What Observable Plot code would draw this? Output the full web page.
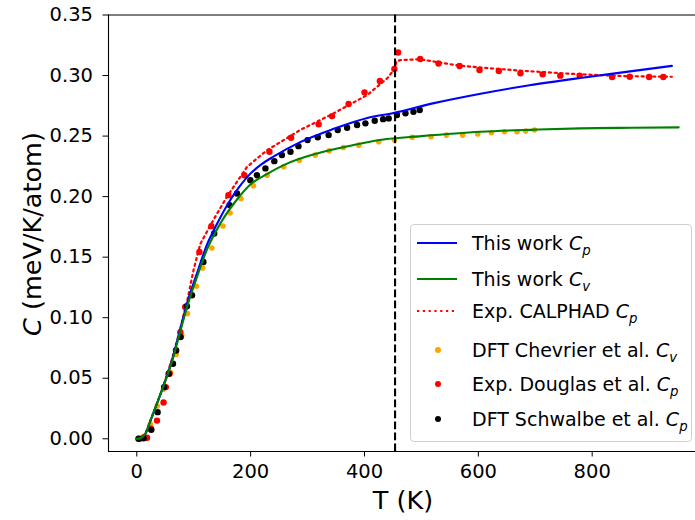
<!DOCTYPE html>
<html><head><meta charset="utf-8">
<script src="https://cdn.jsdelivr.net/npm/d3@7"></script>
<script src="https://cdn.jsdelivr.net/npm/@observablehq/plot@0.6"></script>
<style>
body{margin:0;background:#fff;font-family:"DejaVu Sans",sans-serif;}
#wrap{position:relative;width:695px;height:520px;overflow:hidden;}
.legend{position:absolute;left:410px;top:224px;width:282px;height:218px;border:1px solid #d0d0d0;border-radius:4px;background:rgba(255,255,255,0.8);box-sizing:border-box;font-size:19px;color:#000;}
.row{position:absolute;left:0;height:0;}
.row span.t{position:absolute;left:61px;top:-12px;white-space:nowrap;line-height:24px;}
.row svg{position:absolute;left:0;top:-10px;}
sub{font-size:70%;vertical-align:-0.35em;line-height:0;}
</style></head>
<body><div id="wrap"></div>
<script>
// Axis ticks
const xTicks = [0, 200, 400, 600, 800];
const yTicks = [0, 0.05, 0.10, 0.15, 0.20, 0.25, 0.30, 0.35];
const meltT = 453.7;

// This work Cp (blue line)
const cpT = [0, 5, 15, 24, 44, 62, 76, 89, 106, 123, 135, 147, 164, 180, 199.5, 220, 240, 287, 346, 405, 451, 520, 604, 690, 779, 860, 940];
const cpC = [0, 0.0003, 0.004, 0.015, 0.040, 0.065, 0.090, 0.113, 0.137, 0.160, 0.172, 0.183, 0.197, 0.208, 0.219, 0.227, 0.233, 0.245, 0.256, 0.265, 0.269, 0.277, 0.285, 0.292, 0.298, 0.303, 0.308];

// This work Cv (green line)
const cvT = [0, 5, 15, 24, 44, 62, 76, 89, 106, 123, 147, 175, 199.5, 230, 258, 317, 375, 430, 500, 604, 700, 779, 870, 952];
const cvC = [0, 0.0003, 0.004, 0.015, 0.040, 0.064, 0.088, 0.110, 0.134, 0.156, 0.178, 0.197, 0.210, 0.219, 0.226, 0.2357, 0.242, 0.247, 0.250, 0.2536, 0.2553, 0.2564, 0.2569, 0.2572];

// Exp. CALPHAD Cp (red dotted line)
const calT = [0, 5, 15, 24, 44, 62, 76, 89, 100, 111.6, 129, 141, 158.5, 193.7, 229, 287, 346, 405, 440, 453, 456, 463, 498, 568.5, 674, 779, 860, 940];
const calC = [0, 0.0003, 0.004, 0.015, 0.040, 0.066, 0.090, 0.115, 0.140, 0.161, 0.176, 0.186, 0.200, 0.2246, 0.2384, 0.255, 0.2688, 0.284, 0.2977, 0.3055, 0.3115, 0.3128, 0.3134, 0.308, 0.304, 0.301, 0.2995, 0.299];

// DFT Chevrier et al. Cv (orange points)
const chevT = [12, 24, 36, 47, 59, 69, 79, 89, 104.6, 115.6, 132, 151.5, 164, 183, 205, 229, 258, 285.6, 313.7, 338, 363, 390, 425, 452.5, 483.6, 517, 544, 572.6, 599, 623, 646, 668, 683, 698.6];
const chevC = [0.002, 0.012, 0.027, 0.041, 0.055, 0.0697, 0.0854, 0.1034, 0.126, 0.1411, 0.1576, 0.1757, 0.1865, 0.1985, 0.209, 0.2177, 0.2246, 0.230, 0.2343, 0.2378, 0.2406, 0.2425, 0.2453, 0.2467, 0.249, 0.2494, 0.2508, 0.2508, 0.2517, 0.2528, 0.2536, 0.2536, 0.2541, 0.255];

// Exp. Douglas et al. Cp (red points)
const dougT = [5, 18, 25, 35.5, 47, 51, 57.6, 69, 76.5, 85, 110, 131, 161, 189, 233, 271, 319.5, 343, 372, 400, 427, 452.5, 459, 498, 530, 567, 602, 636, 674, 713, 744, 778, 835, 866, 900, 925];
const dougC = [0, 0.0008, 0.0083, 0.015, 0.030, 0.0427, 0.0538, 0.073, 0.088, 0.1088, 0.1543, 0.1756, 0.2012, 0.2177, 0.237, 0.2486, 0.2597, 0.2665, 0.2765, 0.2861, 0.2955, 0.3054, 0.319, 0.3137, 0.310, 0.3079, 0.3046, 0.3038, 0.3019, 0.301, 0.2999, 0.2999, 0.2988, 0.299, 0.2988, 0.2988];

// DFT Schwalbe et al. Cp (black points)
const schT = [3, 12, 25.5, 36.6, 48, 56, 63.6, 69, 77, 88, 97, 117, 136, 163, 176, 199.5, 211, 226, 241.6, 255, 270, 284, 300, 318, 337, 353, 369.5, 387, 401.6, 418, 432.7, 442.5, 457, 472, 486, 497];
const schC = [0, 0.0005, 0.0074, 0.022, 0.0427, 0.0538, 0.062, 0.073, 0.084, 0.1094, 0.1185, 0.146, 0.1695, 0.193, 0.2026, 0.2136, 0.2177, 0.2233, 0.2293, 0.2343, 0.237, 0.2417, 0.2467, 0.249, 0.2508, 0.255, 0.2569, 0.2591, 0.2605, 0.2627, 0.264, 0.2646, 0.2674, 0.2688, 0.270, 0.2715];

const zip = (T, C) => T.map((t, i) => ({T: t, C: C[i]}));
const xMin = -49.7, xMax = 981.5, yMin = -0.0105, yMax = 0.35;

const chart = Plot.plot({
  width: 695, height: 520,
  marginLeft: 108, marginRight: 0, marginTop: 14.5, marginBottom: 69,
  style: {fontFamily: "DejaVu Sans", fontSize: "19.5px", color: "#000", background: "#fff", overflow: "visible"},
  x: {domain: [xMin, xMax], ticks: xTicks, tickSize: 5.5, tickPadding: 7, label: null},
  y: {domain: [yMin, yMax], ticks: yTicks, tickFormat: d3.format(".2f"), tickSize: 5.5, tickPadding: 10, label: null},
  marks: [
    Plot.dot(zip(chevT, chevC), {x: "T", y: "C", r: 2.8, fill: "orange", stroke: "none"}),
    Plot.dot(zip(dougT, dougC), {x: "T", y: "C", r: 3.2, fill: "red", stroke: "none"}),
    Plot.dot(zip(schT, schC), {x: "T", y: "C", r: 3.2, fill: "black", stroke: "none"}),
    Plot.line(zip(calT, calC), {x: "T", y: "C", stroke: "red", strokeWidth: 2.2, strokeDasharray: "2.2,3.6", curve: "linear"}),
    Plot.line(zip(cpT, cpC), {x: "T", y: "C", stroke: "blue", strokeWidth: 2.1, curve: "monotone-x"}),
    Plot.line(zip(cvT, cvC), {x: "T", y: "C", stroke: "green", strokeWidth: 2.1, curve: "monotone-x"}),
    Plot.ruleX([meltT], {stroke: "black", strokeWidth: 2.1, strokeDasharray: "7.7,3.3"}),
    Plot.ruleX([xMin], {stroke: "black", strokeWidth: 1.1}),
    Plot.ruleY([yMin], {stroke: "black", strokeWidth: 1.1}),
    Plot.ruleY([yMax], {stroke: "black", strokeWidth: 1.1})
  ]
});
const wrap = document.getElementById("wrap");
wrap.appendChild(chart);

// axis labels as SVG text
const svg = d3.select(chart);
svg.append("text").attr("x", 403).attr("y", 509).attr("text-anchor", "middle")
  .attr("font-family", "DejaVu Sans").attr("font-size", 25.5).attr("fill", "#000").text("T (K)");
const yl = svg.append("text").attr("transform", "translate(41,234) rotate(-90)").attr("text-anchor", "middle")
  .attr("font-family", "DejaVu Sans").attr("font-size", 25.5).attr("fill", "#000");
yl.append("tspan").attr("font-style", "italic").text("C");
yl.append("tspan").text(" (meV/K/atom)");

// legend
const legendItems = [
  {kind: "line", color: "blue", dash: null, html: 'This work <i>C</i><sub><i>p</i></sub>', y: 18},
  {kind: "line", color: "green", dash: null, html: 'This work <i>C</i><sub><i>v</i></sub>', y: 54},
  {kind: "line", color: "red", dash: "2.2,3.6", html: 'Exp. CALPHAD <i>C</i><sub><i>p</i></sub>', y: 86},
  {kind: "dot", color: "orange", html: 'DFT Chevrier et al. <i>C</i><sub><i>v</i></sub>', y: 125},
  {kind: "dot", color: "red", html: 'Exp. Douglas et al. <i>C</i><sub><i>p</i></sub>', y: 159},
  {kind: "dot", color: "black", html: 'DFT Schwalbe et al. <i>C</i><sub><i>p</i></sub>', y: 194}
];
const leg = document.createElement("div");
leg.className = "legend";
wrap.appendChild(leg);
for (const it of legendItems) {
  const row = document.createElement("div");
  row.className = "row";
  row.style.top = it.y + "px";
  let icon;
  if (it.kind === "line") {
    icon = `<svg width="60" height="20"><line x1="6" x2="46" y1="10" y2="10" stroke="${it.color}" stroke-width="2.1" ${it.dash ? `stroke-dasharray="${it.dash}"` : ""}/></svg>`;
  } else {
    icon = `<svg width="60" height="20"><circle cx="27" cy="10" r="3" fill="${it.color}"/></svg>`;
  }
  row.innerHTML = icon + `<span class="t">${it.html}</span>`;
  leg.appendChild(row);
}
</script></body></html>
